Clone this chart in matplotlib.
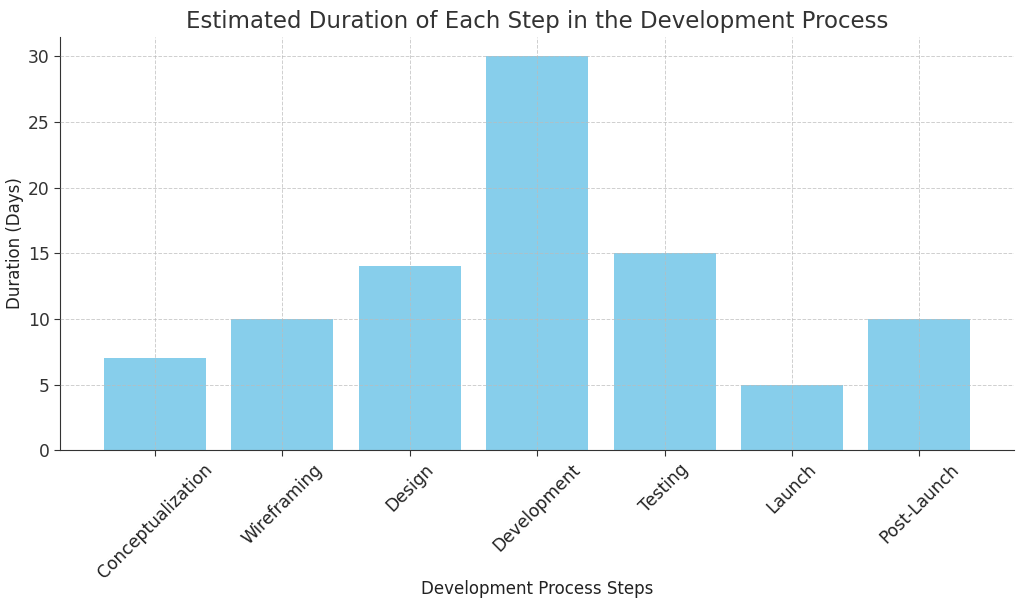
import matplotlib
matplotlib.use("Agg")
import matplotlib.pyplot as plt

steps = ["Conceptualization", "Wireframing", "Design", "Development", "Testing", "Launch", "Post-Launch"]
durations = [7, 10, 14, 30, 15, 5, 10]

plt.rcParams['font.family'] = ['DejaVu Sans']
fig, ax = plt.subplots(figsize=(10.24, 6.10), dpi=100)
fig.subplots_adjust(left=0.059, right=0.99, top=0.94, bottom=0.262)

ax.bar(steps, durations, color="skyblue", width=0.8, zorder=1)
ax.grid(True, linestyle="--", color="#bbbbbb", linewidth=0.7, alpha=0.7, zorder=2)
ax.set_axisbelow(False)

ax.set_title("Estimated Duration of Each Step in the Development Process", fontsize=16.5, color="#333333")
ax.set_xlabel("Development Process Steps", fontsize=12, color="#222222", labelpad=-2)
ax.set_ylabel("Duration (Days)", fontsize=12, color="#222222", labelpad=3)
ax.set_ylim(0, 31.5)
ax.set_yticks([0, 5, 10, 15, 20, 25, 30])
plt.setp(ax.get_xticklabels(), rotation=45, ha="center")
ax.tick_params(axis="both", labelsize=12.3, colors="#333333", length=4)
ax.tick_params(axis="x", labelcolor="#222222")
for s in ["top", "right"]:
    ax.spines[s].set_visible(False)
for s in ["left", "bottom"]:
    ax.spines[s].set_color("#333333")

fig.savefig("out.png", dpi=100)
